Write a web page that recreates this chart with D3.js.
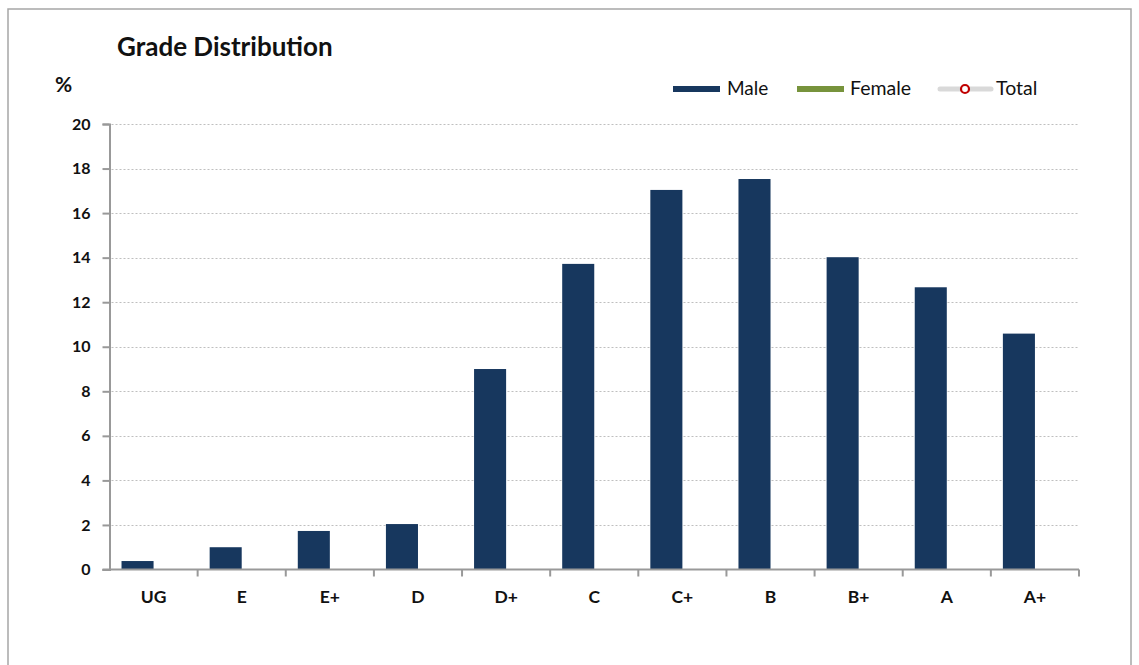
<!DOCTYPE html>
<html lang="en">
<head>
<meta charset="UTF-8" />
<title>Grade Distribution</title>
<style>
    body { margin: 0; background: #fff; }
    #container { width: 1139px; height: 665px; }
    text { font-family: Lato, "Open Sans", sans-serif; }
</style>
</head>
<body>
<div id="container"></div>
<script src="https://cdnjs.cloudflare.com/ajax/libs/d3/7.1.1/d3.min.js"></script>
<script>
    // data
    const grades = ["UG", "E", "E+", "D", "D+", "C", "C+", "B", "B+", "A", "A+"];
    const male = [0.38, 1.0, 1.73, 2.04, 9.0, 13.72, 17.04, 17.53, 14.02, 12.67, 10.59];
    const female = [];   // in the legend, no bars drawn
    const series = ["Male", "Female"];
    const yTicks = [0, 2, 4, 6, 8, 10, 12, 14, 16, 18, 20];

    const W = 1139, H = 665;
    const plotL = 109.5, plotR = 1079, plotT = 124, plotB = 569.5;

    const svg = d3.select("#container").append("svg").attr("width", W).attr("height", H);

    // outer frame
    svg.append("rect").attr("x", 8).attr("y", 9).attr("width", 1123).attr("height", 700)
        .attr("fill", "none").attr("stroke", "#a6a6a6").attr("stroke-width", 1.5);

    const x = d3.scaleBand().domain(grades).range([plotL, plotR]).paddingInner(0).paddingOuter(0);
    const xs = d3.scaleBand().domain(series).range([0, x.bandwidth()]).paddingInner(0).paddingOuter(0.375);
    const y = d3.scaleLinear().domain([0, 20]).range([plotB, plotT]);

    // grid
    svg.append("g").selectAll("line").data(yTicks.filter(d => d > 0)).enter().append("line")
        .attr("x1", plotL + 2).attr("x2", plotR)
        .attr("y1", d => Math.round(y(d)) + 0.5).attr("y2", d => Math.round(y(d)) + 0.5)
        .attr("stroke", "#bfbfbf").attr("stroke-width", 1.2).attr("stroke-dasharray", "2,2");

    // bars
    svg.append("g").selectAll("rect").data(male).enter().append("rect")
        .attr("x", (d, i) => x(grades[i]) + xs("Male"))
        .attr("y", d => y(d))
        .attr("width", xs.bandwidth())
        .attr("height", d => plotB - y(d))
        .attr("fill", "#17375e");

    // y axis
    const yAxis = svg.append("g").attr("transform", `translate(${plotL},0)`)
        .call(d3.axisLeft(y).tickValues(yTicks).tickSize(7).tickPadding(12));
    yAxis.select(".domain").attr("stroke", "#999").attr("stroke-width", 2);
    yAxis.selectAll(".tick line").attr("stroke", "#999").attr("stroke-width", 2);
    yAxis.selectAll(".tick text").attr("font-size", 16).attr("font-weight", "bold").attr("fill", "#111");

    // x axis
    const xAxis = svg.append("g").attr("transform", `translate(0,${plotB})`)
        .call(d3.axisBottom(x).tickSize(0).tickPadding(21));
    xAxis.select(".domain").attr("stroke", "#999").attr("stroke-width", 2)
        .attr("d", `M${plotL - 7},0H${plotR}`);
    xAxis.selectAll(".tick text").attr("font-size", 17.5).attr("font-weight", "bold").attr("fill", "#111");
    svg.append("g").selectAll("line").data(grades.slice(1).concat([null])).enter().append("line")
        .attr("x1", (d, i) => i < grades.length - 1 ? x(d) : plotR)
        .attr("x2", (d, i) => i < grades.length - 1 ? x(d) : plotR)
        .attr("y1", plotB).attr("y2", plotB + 7)
        .attr("stroke", "#999").attr("stroke-width", 2);

    // title and unit
    svg.append("text").attr("x", 117).attr("y", 56).text("Grade Distribution")
        .attr("font-size", 26).attr("font-weight", "bold").attr("fill", "#111");
    svg.append("text").attr("x", 55).attr("y", 92).text("%")
        .attr("font-size", 21).attr("font-weight", "bold").attr("fill", "#111");

    // legend
    const lg = svg.append("g");
    lg.append("rect").attr("x", 673).attr("y", 86).attr("width", 47).attr("height", 6).attr("fill", "#17375e");
    lg.append("text").attr("x", 727).attr("y", 95).text("Male").attr("font-size", 19).attr("fill", "#111");
    lg.append("rect").attr("x", 797).attr("y", 86).attr("width", 47).attr("height", 6).attr("fill", "#77933c");
    lg.append("text").attr("x", 850).attr("y", 95).text("Female").attr("font-size", 19.5).attr("fill", "#111");
    lg.append("line").attr("x1", 940).attr("x2", 991).attr("y1", 89).attr("y2", 89)
        .attr("stroke", "#d9d9d9").attr("stroke-width", 5).attr("stroke-linecap", "round");
    lg.append("circle").attr("cx", 965).attr("cy", 89).attr("r", 4)
        .attr("fill", "#fff").attr("stroke", "#c00000").attr("stroke-width", 2.2);
    lg.append("text").attr("x", 996).attr("y", 95).text("Total").attr("font-size", 19.5).attr("fill", "#111");
</script>
</body>
</html>
